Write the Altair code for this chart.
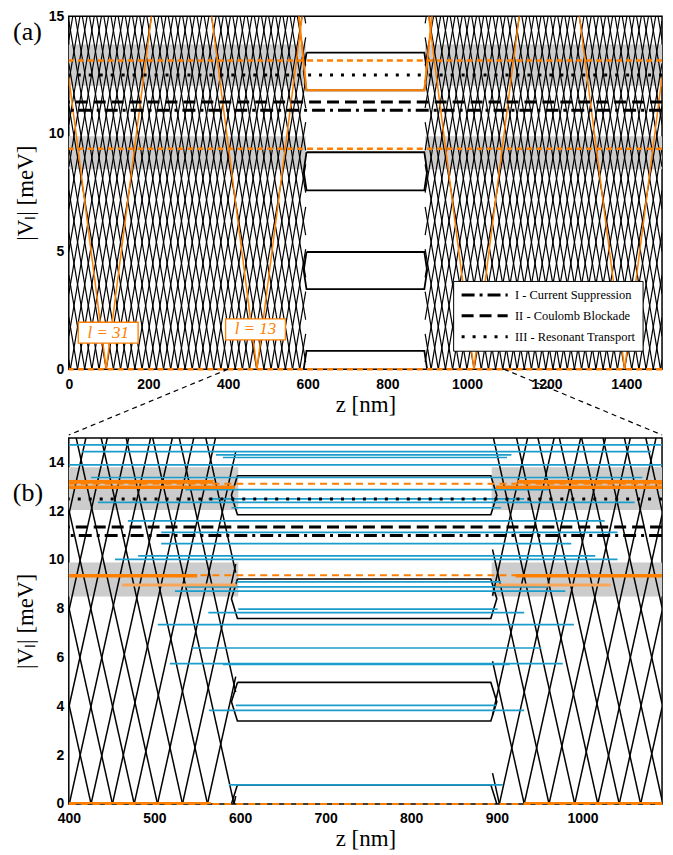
import altair as alt
import pandas as pd

# ---------------- colours ----------------
ORANGE = "#ff7f00"
ORANGE_LIGHT = "#f9a55a"
BLUE = "#1a9dcb"
GRAY = "#cccccc"

# ---------------- axes ----------------
TOP_Z_DOMAIN = [0, 1490]
BOT_Z_DOMAIN = [400, 1093]
V_DOMAIN = [0, 15]
TOP_X_TICKS = [0, 200, 400, 600, 800, 1000, 1200, 1400]
TOP_Y_TICKS = [0, 5, 10, 15]
BOT_X_TICKS = [400, 500, 600, 700, 800, 900, 1000]
BOT_Y_TICKS = [0, 2, 4, 6, 8, 10, 12, 14]

# ---------------- geometry of the device (nm) ----------------
LEAD_EDGE = [595, 895]      # where the leads end
DOT_INNER = [597, 893]      # flat part of the dot levels
DOT_APEX = [590, 900]       # bend of the dot levels
MIRROR = 1490               # right lead is the mirror image of the left one

# ---------------- panel (a): lead potentials |V_l| ----------------
TOP_SLOPE = 0.10            # meV / nm
TOP_LEFT_ZEROS = [-140, -122, -104, -86, -68, -50, -32, -14,
                  4, 22, 40, 58, 76, 94, 112, 130, 148, 166, 184, 202, 220,
                  238, 256, 274, 292, 310, 328, 346, 364, 382, 400, 418, 436,
                  454, 472, 490, 508, 526, 544, 562, 580, 598, 616, 634, 652,
                  670, 688, 706, 724, 742]

ORANGE_SLOPE = 0.132
ORANGE_LABELS = ["l = 31", "l = 13"]
ORANGE_ZEROS_LEFT = [94, 472.5]
ORANGE_ZEROS_RIGHT = [1396, 1017.5]
LABEL_Z = [99, 469]
LABEL_V = [1.55, 1.69]
ORANGE_DOT_LEVEL = 11.85
ORANGE_DOT_SLOPE = 0.166

# ---------------- panel (b) ----------------
BOT_SLOPE = 0.158
BOT_LEFT_ZEROS = [325, 350, 375, 400.6, 426, 451, 476.4, 503.6, 532.8, 562, 593, 624, 655]
BOT_RIGHT_ZEROS = [841, 872, 903, 932, 961, 991, 1018, 1043, 1068, 1094, 1119, 1144, 1169]

# ---------------- common levels (meV) ----------------
GRAY_BANDS_LO = [8.5, 12.05]
GRAY_BANDS_HI = [9.9, 13.8]
REGIMES = ["I - Current Suppression", "II - Coulomb Blockade", "III - Resonant Transport"]
REGIME_V = [11.0, 11.35, 12.5]
REGIME_DASH = [[13, 5, 3, 5], [12, 6], [3, 8]]
ORANGE_DASHED_V = [0.0, 9.37, 13.12]
DOT_PAIR_LO = [3.4, 7.6, 11.85]
DOT_PAIR_HI = [4.98, 9.22, 13.45]
DOT_GROUND = 0.78

# blue states of panel (b)
BLUE_V = [14.72, 14.44, 14.31, 14.2, 13.9, 13.38, 12.88, 12.5, 12.36, 12.14, 11.6,
          11.13, 10.67, 10.17, 10.02, 9.1, 8.9, 8.72, 7.98, 7.84, 7.35, 6.39,
          5.75, 5.72, 4.04, 3.83, 0.78]
BLUE_Z0 = [400, 415, 572, 580, 400, 426, 536, 563, 434, 590, 469,
           508, 508, 481, 454, 596, 536, 524, 598, 563, 504, 544,
           518, 580, 595, 564, 587]
BLUE_Z1 = [1093, 1080, 917, 912, 1093, 1070, 960, 932, 1061, 905, 1026,
           1041, 987, 1015, 1041, 905, 960, 980, 901, 932, 990, 952,
           977, 915, 899, 932, 907]

# orange states of panel (b)
BOT_ORANGE_V = [13.2, 13.2, 12.98, 12.98, 9.35, 9.35, 0.0, 0.0]
BOT_ORANGE_Z0 = [400, 924, 400, 899, 400, 922, 400, 932]
BOT_ORANGE_Z1 = [569, 1093, 594, 1093, 550, 1093, 566, 1093]
BOT_ORANGE2_V = [8.97, 8.97]
BOT_ORANGE2_Z0 = [462, 899]
BOT_ORANGE2_Z1 = [596, 1033]

# ---------------- layout (px) ----------------
W = 595
TOP_H = 354
BOT_H = 367
GAP = 66
FRAME = 1.5

SERIF = "Liberation Serif"
SANS = "Liberation Sans"


def lattice(zeros, slope, lo, hi, vmax=15.0):
    rows = []
    reach = vmax / slope
    for z0 in zeros:
        a, b = max(z0, lo), min(z0 + reach, hi)
        if a < b:
            rows.append(dict(z=a, v=slope * (a - z0), z2=b, v2=slope * (b - z0)))
        a, b = max(z0 - reach, lo), min(z0, hi)
        if a < b:
            rows.append(dict(z=a, v=slope * (z0 - a), z2=b, v2=slope * (z0 - b)))
    return rows


def xenc(domain, ticks):
    return alt.X("z:Q", scale=alt.Scale(domain=domain, nice=False, zero=False),
                 axis=alt.Axis(values=ticks, format="d", title="z [nm]", labelFont=SANS,
                               labelFontWeight="bold", labelFontSize=14,
                               labelColor="black", ticks=False, domain=False,
                               grid=False, labelPadding=8, labelFlush=False,
                               titleFont=SERIF, titleFontSize=23,
                               titleFontWeight="normal", titleColor="black",
                               titlePadding=2))


def yenc(ticks):
    return alt.Y("v:Q", scale=alt.Scale(domain=V_DOMAIN, nice=False, zero=False),
                 axis=alt.Axis(values=ticks, title="|Vₗ| [meV]", labelFont=SANS,
                               labelFontWeight="bold", labelFontSize=14,
                               labelColor="black", ticks=False, domain=False,
                               grid=False, labelPadding=5, labelFlush=False,
                               titleFont=SERIF, titleFontSize=23,
                               titleFontWeight="normal", titleColor="black",
                               titlePadding=11))


def bands(lo_z, hi_z, lo2_z, hi2_z):
    rows = []
    for lo, hi in zip(GRAY_BANDS_LO, GRAY_BANDS_HI):
        rows.append(dict(z=lo_z, z2=hi_z, v=lo, v2=hi))
        rows.append(dict(z=lo2_z, z2=hi2_z, v=lo, v2=hi))
    return pd.DataFrame(rows)


def dot_paths():
    rows = []
    k = 0
    for lo, up in zip(DOT_PAIR_LO, DOT_PAIR_HI):
        mid = (lo + up) / 2
        pts = [(DOT_INNER[0], up), (DOT_INNER[1], up), (DOT_APEX[1], mid),
               (DOT_INNER[1], lo), (DOT_INNER[0], lo), (DOT_APEX[0], mid),
               (DOT_INNER[0], up)]
        for s, (z, v) in enumerate(pts):
            rows.append(dict(id=k, seq=s, z=z, v=v))
        k += 1
    pts = [(DOT_APEX[0], 0), (DOT_INNER[0], DOT_GROUND),
           (DOT_INNER[1], DOT_GROUND), (DOT_APEX[1], 0)]
    for s, (z, v) in enumerate(pts):
        rows.append(dict(id=k, seq=s, z=z, v=v))
    return pd.DataFrame(rows)


# ====================== panel (a) ======================
X1 = xenc(TOP_Z_DOMAIN, TOP_X_TICKS)
Y1 = yenc(TOP_Y_TICKS)

top_mesh = pd.DataFrame(
    lattice(TOP_LEFT_ZEROS, TOP_SLOPE, TOP_Z_DOMAIN[0], LEAD_EDGE[0]) +
    lattice([MIRROR - z for z in TOP_LEFT_ZEROS], TOP_SLOPE, LEAD_EDGE[1], TOP_Z_DOMAIN[1]))
top_orange = pd.DataFrame(
    lattice(ORANGE_ZEROS_LEFT, ORANGE_SLOPE, TOP_Z_DOMAIN[0], LEAD_EDGE[0]) +
    lattice(ORANGE_ZEROS_RIGHT, ORANGE_SLOPE, LEAD_EDGE[1], TOP_Z_DOMAIN[1]))
rise = (15 - ORANGE_DOT_LEVEL) / ORANGE_DOT_SLOPE
orange_dot = pd.DataFrame(dict(
    seq=[0, 1, 2, 3],
    z=[DOT_INNER[0] - rise, DOT_INNER[0], DOT_INNER[1], DOT_INNER[1] + rise],
    v=[15, ORANGE_DOT_LEVEL, ORANGE_DOT_LEVEL, 15]))

regimes = pd.DataFrame(dict(regime=REGIMES, v=REGIME_V))
orange_dashed = pd.DataFrame(dict(v=ORANGE_DASHED_V))

px_per_nm = W / (TOP_Z_DOMAIN[1] - TOP_Z_DOMAIN[0])
px_per_mev = TOP_H / (V_DOMAIN[1] - V_DOMAIN[0])
half_w = 30 / px_per_nm
half_h = 10.5 / px_per_mev
labels = pd.DataFrame(dict(t=ORANGE_LABELS, z=LABEL_Z, v=LABEL_V))
labels["zl"] = labels.z - half_w
labels["zr"] = labels.z + half_w
labels["vl"] = labels.v - half_h
labels["vh"] = labels.v + half_h

V_END = -GAP / px_per_mev
zoom_lines = pd.DataFrame(dict(z=BOT_Z_DOMAIN, v=[0, 0],
                               z2=TOP_Z_DOMAIN, v2=[V_END, V_END]))

dash_scale = alt.Scale(domain=REGIMES, range=REGIME_DASH)

top_layers = [
    alt.Chart(bands(TOP_Z_DOMAIN[0], LEAD_EDGE[0], LEAD_EDGE[1], TOP_Z_DOMAIN[1]))
    .mark_rect(color=GRAY).encode(x=X1, x2="z2:Q", y=Y1, y2="v2:Q"),
    alt.Chart(top_mesh).mark_rule(color="black", strokeWidth=1.2, clip=True)
    .encode(x=X1, y=Y1, x2="z2:Q", y2="v2:Q"),
    alt.Chart(top_orange).mark_rule(color=ORANGE, strokeWidth=1.5, clip=True)
    .encode(x=X1, y=Y1, x2="z2:Q", y2="v2:Q"),
    alt.Chart(dot_paths()).mark_line(color="black", strokeWidth=1.8, clip=True)
    .encode(x=X1, y=Y1, detail="id:N", order="seq:Q"),
    alt.Chart(orange_dot).mark_line(color=ORANGE, strokeWidth=2, clip=True)
    .encode(x=X1, y=Y1, order="seq:Q"),
    alt.Chart(orange_dashed).mark_rule(color=ORANGE, strokeWidth=2.6, strokeDash=[6, 4])
    .encode(y=Y1),
    alt.Chart(regimes).mark_rule(color="black", strokeWidth=3).encode(
        y=Y1,
        strokeDash=alt.StrokeDash(
            "regime:N", scale=dash_scale,
            legend=alt.Legend(orient="none", legendX=385.5, legendY=265.5, title=None,
                              fillColor="white", strokeColor="black", padding=7,
                              symbolType="M-1,0H7.4", symbolSize=121,
                              symbolStrokeWidth=3, symbolStrokeColor="black",
                              labelFont=SERIF, labelFontSize=12.5, labelOffset=41,
                              labelColor="black", rowPadding=7, cornerRadius=0,
                              labelLimit=300))),
    alt.Chart(labels).mark_rect(fill="white", stroke=ORANGE, strokeWidth=1.3)
    .encode(x=X1, x2="zr:Q", y="vl:Q", y2="vh:Q").transform_calculate(z="datum.zl"),
    alt.Chart(labels).mark_text(color=ORANGE, font=SERIF, fontSize=17, fontStyle="italic")
    .encode(x=X1, y=Y1, text="t:N"),
    alt.Chart(zoom_lines).mark_rule(color="black", strokeWidth=1.2, strokeDash=[5, 4], clip=False)
    .encode(x=X1, y=Y1, x2="z2:Q", y2="v2:Q"),
    alt.Chart(pd.DataFrame(dict(t=["(a)"]))).mark_text(font=SERIF, fontSize=26, color="black")
    .encode(text="t:N", x=alt.value(-41.5), y=alt.value(15.5)),
]
top = alt.layer(*top_layers).properties(width=W, height=TOP_H)

# ====================== panel (b) ======================
X2 = xenc(BOT_Z_DOMAIN, BOT_X_TICKS)
Y2 = yenc(BOT_Y_TICKS)

bot_mesh = pd.DataFrame(
    lattice(BOT_LEFT_ZEROS, BOT_SLOPE, BOT_Z_DOMAIN[0], LEAD_EDGE[0]) +
    lattice(BOT_RIGHT_ZEROS, BOT_SLOPE, LEAD_EDGE[1], BOT_Z_DOMAIN[1]))
blue = pd.DataFrame(dict(v=BLUE_V, z=BLUE_Z0, z2=BLUE_Z1))
bot_orange = pd.DataFrame(dict(v=BOT_ORANGE_V, z=BOT_ORANGE_Z0, z2=BOT_ORANGE_Z1))
bot_orange2 = pd.DataFrame(dict(v=BOT_ORANGE2_V, z=BOT_ORANGE2_Z0, z2=BOT_ORANGE2_Z1))

bot_layers = [
    alt.Chart(bands(BOT_Z_DOMAIN[0], 598, 894, BOT_Z_DOMAIN[1]))
    .mark_rect(color=GRAY).encode(x=X2, x2="z2:Q", y=Y2, y2="v2:Q"),
    alt.Chart(bot_mesh).mark_rule(color="black", strokeWidth=1.5, clip=True)
    .encode(x=X2, y=Y2, x2="z2:Q", y2="v2:Q"),
    alt.Chart(dot_paths()).mark_line(color="black", strokeWidth=1.6, clip=True)
    .encode(x=X2, y=Y2, detail="id:N", order="seq:Q"),
    alt.Chart(blue).mark_rule(color=BLUE, strokeWidth=1.7, clip=True)
    .encode(x=X2, x2="z2:Q", y=Y2),
    alt.Chart(orange_dashed).mark_rule(color=ORANGE, strokeWidth=2, strokeDash=[7, 5])
    .encode(y=Y2),
    alt.Chart(bot_orange2).mark_rule(color=ORANGE_LIGHT, strokeWidth=3, clip=True)
    .encode(x=X2, x2="z2:Q", y=Y2),
    alt.Chart(bot_orange).mark_rule(color=ORANGE, strokeWidth=3.6, clip=True)
    .encode(x=X2, x2="z2:Q", y=Y2),
    alt.Chart(regimes).mark_rule(color="black", strokeWidth=3).encode(
        y=Y2, strokeDash=alt.StrokeDash("regime:N", scale=dash_scale, legend=None)),
    alt.Chart(pd.DataFrame(dict(t=["(b)"]))).mark_text(font=SERIF, fontSize=26, color="black")
    .encode(text="t:N", x=alt.value(-41), y=alt.value(55.5)),
]
bottom = alt.layer(*bot_layers).properties(width=W, height=BOT_H)

chart = (
    alt.vconcat(top, bottom, spacing=0)
    .resolve_scale(strokeDash="independent")
    .resolve_legend(strokeDash="independent")
    .properties(padding={"left": 12, "top": 7, "right": 8, "bottom": 5})
    .configure_view(stroke="black", strokeWidth=FRAME)
)

chart.save("out.html", embed_options={"renderer": "svg", "actions": False})
